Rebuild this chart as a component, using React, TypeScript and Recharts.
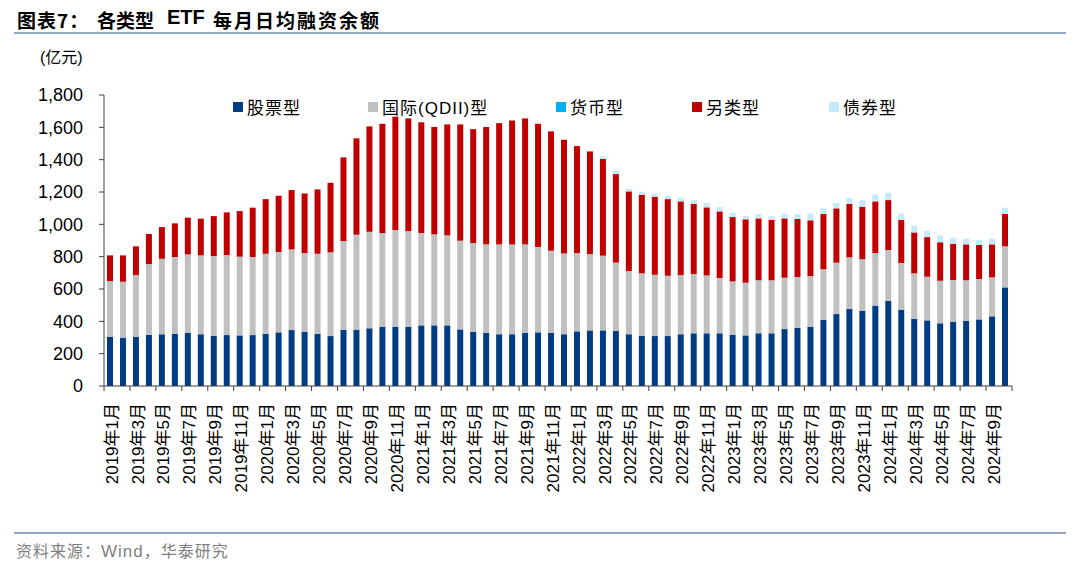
import React from "react";
import { Bar, BarChart, XAxis, YAxis } from "recharts";

// 2019-01 .. 2024-10
const months: string[] = [];
for (let y = 2019; y <= 2024; y++) {
  for (let m = 1; m <= 12; m++) {
    if (y === 2024 && m > 10) break;
    months.push(`${y}年${m}月`);
  }
}

const stock = [
  305, 299, 305, 317, 320, 322, 328, 320, 311, 315, 313, 315,
  323, 332, 346, 334, 323, 309, 348, 348, 357, 365, 367, 367,
  375, 375, 375, 350, 334, 328, 320, 320, 328, 332, 328, 320,
  338, 344, 344, 340, 320, 311, 309, 309, 320, 326, 326, 326,
  317, 313, 326, 326, 352, 359, 367, 408, 445, 476, 466, 497,
  526, 472, 416, 406, 388, 398, 402, 412, 431, 610,
];
const qdii = [
  344, 346, 381, 437, 467, 476, 486, 488, 493, 495, 487, 483,
  495, 497, 499, 488, 495, 518, 549, 588, 597, 581, 598, 591,
  571, 563, 557, 549, 550, 548, 556, 556, 548, 528, 509, 500,
  484, 472, 462, 423, 391, 386, 379, 373, 366, 367, 358, 342,
  330, 326, 328, 328, 318, 315, 313, 314, 318, 320, 318, 325,
  315, 289, 281, 270, 263, 258, 252, 250, 241, 254,
];
const money = [
  0, 0, 0, 0, 0, 0, 0, 0, 0, 0, 0, 0,
  0, 0, 0, 0, 0, 0, 0, 0, 0, 0, 0, 0,
  0, 0, 0, 0, 0, 0, 0, 0, 0, 0, 0, 0,
  0, 0, 0, 0, 0, 0, 0, 0, 0, 0, 0, 0,
  0, 0, 0, 0, 0, 0, 0, 0, 0, 0, 0, 0,
  0, 0, 0, 0, 0, 0, 0, 0, 0, 0,
];
const other = [
  159, 163, 178, 186, 196, 208, 227, 227, 247, 264, 282, 305,
  338, 348, 367, 369, 398, 430, 517, 596, 652, 676, 701, 697,
  685, 664, 686, 719, 705, 726, 750, 767, 779, 762, 738, 703,
  662, 635, 598, 548, 493, 486, 481, 474, 456, 433, 421, 412,
  398, 392, 383, 373, 367, 359, 345, 342, 336, 330, 325, 320,
  309, 266, 253, 245, 238, 224, 222, 210, 204, 200,
];
const bond = [
  0, 0, 0, 0, 0, 0, 0, 0, 0, 0, 0, 0,
  0, 0, 0, 0, 0, 0, 0, 0, 0, 0, 0, 0,
  0, 0, 0, 0, 0, 0, 0, 0, 0, 0, 0, 0,
  0, 0, 16, 21, 16, 19, 20, 21, 23, 24, 27, 28,
  27, 22, 27, 26, 27, 31, 41, 35, 33, 37, 39, 43,
  44, 39, 41, 39, 41, 37, 35, 31, 35, 39,
];

const yTicks = [0, 200, 400, 600, 800, 1000, 1200, 1400, 1600, 1800];

const series = [
  { key: "stock", name: "股票型", color: "#003C82" },
  { key: "qdii", name: "国际(QDII)型", color: "#C0C0C0" },
  { key: "money", name: "货币型", color: "#00B0F0" },
  { key: "other", name: "另类型", color: "#C00000" },
  { key: "bond", name: "债券型", color: "#C4E9F8" },
];
const legendX = [233, 368, 556, 692, 829];

const rows = months.map((month, i) => ({
  month,
  stock: stock[i],
  qdii: qdii[i],
  money: money[i],
  other: other[i],
  bond: bond[i],
}));

const PLOT_LEFT = 104;
const PLOT_RIGHT = 1012;
const PLOT_TOP = 95;
const PLOT_BOTTOM = 386;
const band = (PLOT_RIGHT - PLOT_LEFT) / months.length;
const axisColor = "#404040";
const font = "'Liberation Sans', Arial, 'Noto Sans CJK SC', sans-serif";
const cjk = "'Noto Sans CJK SC', sans-serif";

const MonthTick = ({ x, payload }: { x?: number; payload?: { value: string; index: number } }) => {
  if (x == null || !payload) return null;
  const i = payload.index;
  const left = x - band / 2;
  return (
    <g>
      {i % 2 === 0 && (
        <>
          <line x1={left} x2={left} y1={PLOT_BOTTOM} y2={PLOT_BOTTOM + 5} stroke={axisColor} />
          <g transform={`translate(${x + 1},${PLOT_BOTTOM + 17})`}>
            <text transform="rotate(-90)" textAnchor="end" dy="0.36em" fontSize={17} fill="#000" fontFamily={font}>
              {payload.value}
            </text>
          </g>
        </>
      )}
      {i === months.length - 1 && (
        <line x1={x + band / 2} x2={x + band / 2} y1={PLOT_BOTTOM} y2={PLOT_BOTTOM + 5} stroke={axisColor} />
      )}
    </g>
  );
};

const titleStyle: React.CSSProperties = { position: "absolute", top: 6, fontSize: 19, fontWeight: 700, color: "#000", fontFamily: cjk, whiteSpace: "pre" };

export default function App() {
  return (
    <div style={{ position: "absolute", left: 0, top: 0, width: 1080, height: 567, background: "#fff", fontFamily: font }}>
      <div style={{ ...titleStyle, left: 17, letterSpacing: 1 }}>图表7：</div>
      <div style={{ ...titleStyle, left: 97, letterSpacing: 0 }}>各类型</div>
      <div style={{ ...titleStyle, left: 167, fontFamily: font, fontSize: 20 }}>ETF</div>
      <div style={{ ...titleStyle, left: 213, letterSpacing: 2 }}>每月日均融资余额</div>
      <div style={{ position: "absolute", left: 14, top: 32, width: 1052, height: 2, background: "#8FAACB" }} />
      <div style={{ position: "absolute", left: 40, top: 44, fontSize: 16, color: "#000" }}>(亿元)</div>

      <div style={{ position: "absolute", left: 0, top: 0 }}>
        <BarChart
          width={1080}
          height={567}
          data={rows}
          margin={{ top: PLOT_TOP, right: 1080 - PLOT_RIGHT, bottom: 567 - PLOT_BOTTOM - 100, left: PLOT_LEFT - 64 }}
          barSize={6}
        >
          <XAxis
            dataKey="month"
            interval={0}
            height={100}
            tickLine={false}
            axisLine={{ stroke: axisColor }}
            tick={<MonthTick />}
          />
          <YAxis
            width={64}
            domain={[0, 1800]}
            ticks={yTicks}
            interval={0}
            tickSize={5}
            tickMargin={16}
            axisLine={{ stroke: axisColor }}
            tickLine={{ stroke: axisColor }}
            tickFormatter={(v: number) => v.toLocaleString("en-US")}
            tick={{ fontSize: 18, fill: "#000", fontFamily: font }}
          />
          {series.map((s) => (
            <Bar key={s.key} dataKey={s.key} name={s.name} stackId="a" fill={s.color} isAnimationActive={false} />
          ))}
        </BarChart>
      </div>

      {series.map((s, i) => (
        <div key={s.key} style={{ position: "absolute", left: legendX[i], top: 94, display: "flex", alignItems: "center", fontSize: 17, color: "#000", fontFamily: cjk, letterSpacing: 1 }}>
          <span style={{ width: 10, height: 10, background: s.color, display: "inline-block", marginRight: 4 }} />
          <span style={{ fontFamily: i === 1 ? font : undefined }}>{s.name}</span>
        </div>
      ))}

      <div style={{ position: "absolute", left: 14, top: 532, width: 1052, height: 2, background: "#8FAACB" }} />
      <div style={{ position: "absolute", left: 16, top: 538, fontSize: 16, color: "#7F7F7F", fontFamily: cjk, letterSpacing: 1 }}>
        资料来源：<span style={{ fontFamily: font, fontSize: 17 }}>Wind</span>，华泰研究
      </div>
    </div>
  );
}
